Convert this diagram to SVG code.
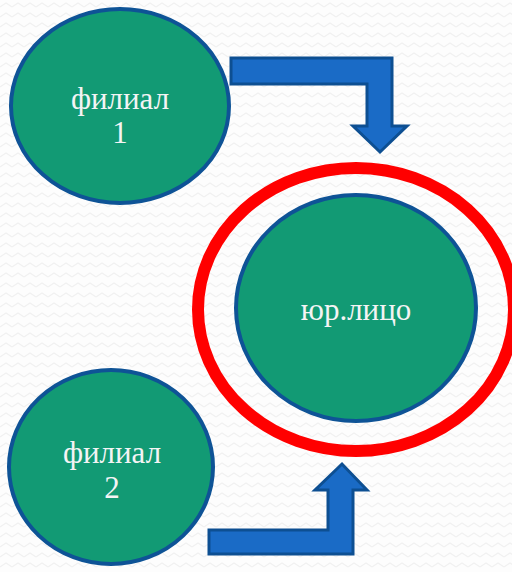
<svg xmlns="http://www.w3.org/2000/svg" width="512" height="572" viewBox="0 0 512 572">
<defs>
<pattern id="zz" width="12" height="10" patternUnits="userSpaceOnUse">
<path d="M0,7 L6,3 L12,7" fill="none" stroke="#f1f1f1" stroke-width="1.2"/>
</pattern>
<style>
.node{fill:#129A74;stroke:#0E5396;stroke-width:4}
.lbl{font-family:"Liberation Serif",serif;font-size:31px;fill:#F4F4F4;text-anchor:middle}
.arrow{fill:#1A6BC6;stroke:#0D4F92;stroke-width:3;stroke-linejoin:miter}
</style>
</defs>
<rect width="512" height="572" fill="#fdfdfd"/>
<rect width="512" height="572" fill="url(#zz)"/>
<g id="connectors">
<path class="arrow" d="M231,58 L392,58 L392,126 L407,126 L380,152 L353,126 L367,126 L367,84 L231,84 Z"/>
<path class="arrow" d="M209,554 L353,554 L353,490 L367,490 L342,464 L315,490 L328,490 L328,530 L209,530 Z"/>
</g>
<g id="filial1">
<ellipse class="node" cx="120" cy="106" rx="109" ry="97"/>
<text class="lbl" x="120" y="109">филиал</text>
<text class="lbl" x="120" y="143">1</text>
</g>
<g id="filial2">
<ellipse class="node" cx="111" cy="467" rx="102" ry="97"/>
<text class="lbl" x="112" y="463">филиал</text>
<text class="lbl" x="112" y="498">2</text>
</g>
<g id="ring">
<ellipse cx="356" cy="309.5" rx="158" ry="141.5" fill="none" stroke="#FF0000" stroke-width="12"/>
</g>
<g id="yurlico">
<ellipse class="node" cx="356" cy="308" rx="120" ry="113"/>
<text class="lbl" x="356" y="320">юр.лицо</text>
</g>
</svg>
